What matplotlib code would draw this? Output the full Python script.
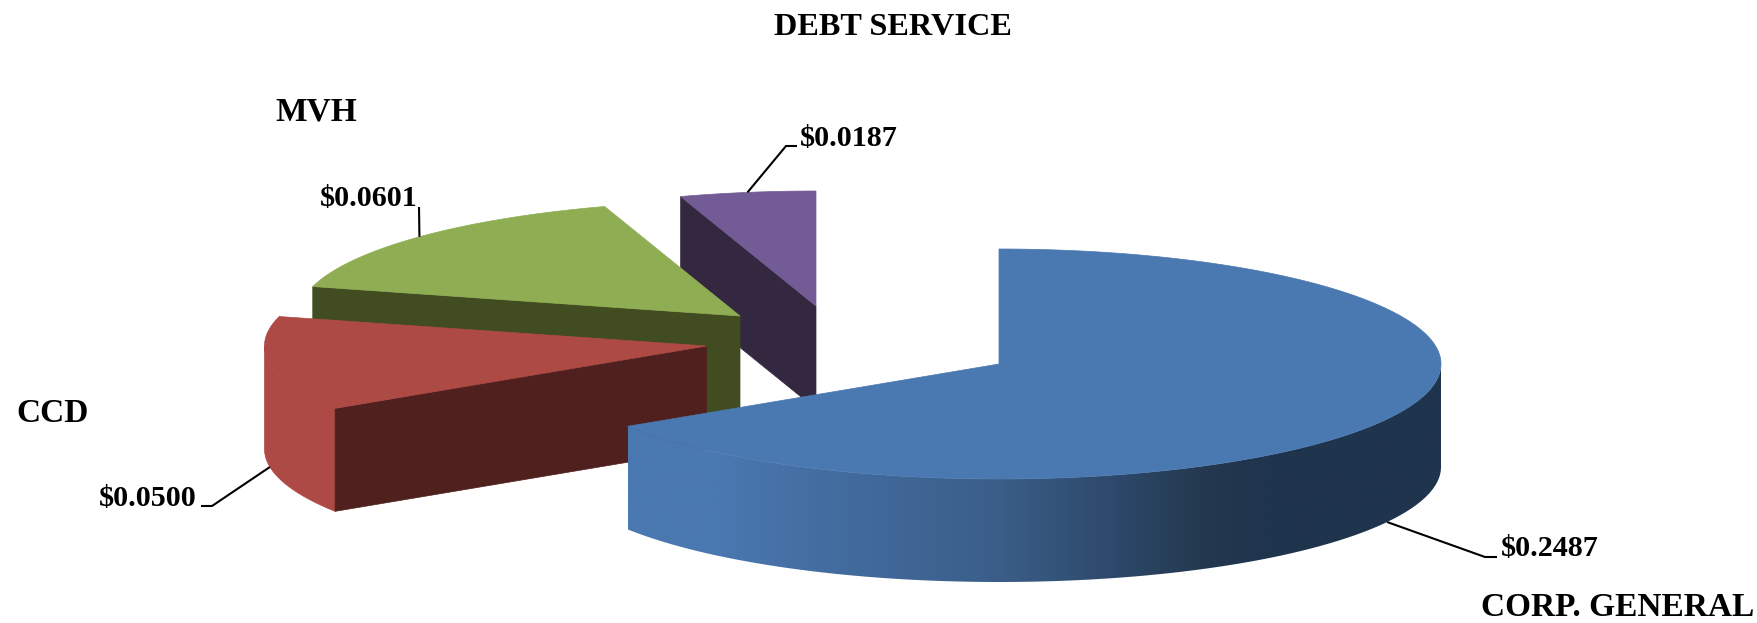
import numpy as np
import matplotlib
matplotlib.use("Agg")
import matplotlib.pyplot as plt
from matplotlib.colors import to_rgb
from matplotlib.patches import Polygon

# Debt service levy by fund, clockwise from twelve o'clock
categories = ["CORP. GENERAL", "CCD", "MVH", "OTHER"]
values = [0.2487, 0.0500, 0.0601, 0.0187]
category_labels = ["CORP. GENERAL", "CCD", "MVH", None]
chart_title = "DEBT SERVICE"

# Pie geometry in pixels: exploded apex of each slice, ellipse radii and extrusion depth
apexes = [(999, 364), (706.5, 346), (740, 316), (816, 306)]
RX, RY, DEPTH = 442, 115, 103

TOP = ["#4A78B0", "#AE4A45", "#8FAD52", "#735C95"]
CUT = [None, "#4F201E", "#414C20", "#332840"]

# Leader elbows and value label anchors
elbows = [[(1485, 557), (1497, 557)], [(212, 506), (201, 506)],
          [(419, 207), (419, 207)], [(786, 146), (797, 146)]]
value_pos = [(1501, 549), (99, 499), (320, 198), (800, 138)]
name_pos = [(1481, 608), (16, 414), (275, 112), None]

plt.rcParams["font.family"] = ["Liberation Serif", "DejaVu Serif"]
fig = plt.figure(figsize=(17.58, 6.23), dpi=100, facecolor="white")
ax = fig.add_axes([0, 0, 1, 1])
ax.set_xlim(0, 1758)
ax.set_ylim(623, 0)
ax.axis("off")

shares = np.array(values) / np.sum(values)
edges = np.concatenate([[0], np.cumsum(shares)]) * 2 * np.pi


def rim(apex, theta, drop=0.0):
    theta = np.asarray(theta)
    return np.column_stack([apex[0] + RX * np.sin(theta),
                            apex[1] - RY * np.cos(theta) + drop])


# Painted back to front so nearer slices hide the farther ones
for i in [3, 2, 1, 0]:
    apex = apexes[i]
    t0, t1 = edges[i], edges[i + 1]
    z = 10 + (3 - i) * 5

    # Outer wall: only the part facing the viewer is drawn
    lo, hi = max(t0, np.pi / 2), min(t1, 3 * np.pi / 2)
    if hi > lo:
        arc = np.linspace(lo, hi, 200)
        wall = np.vstack([rim(apex, arc), rim(apex, arc[::-1], DEPTH)])
        if i == 0:
            # Shaded side of the large slice, dark on the right
            xs = np.linspace(wall[:, 0].min(), wall[:, 0].max(), 800)
            stops_x = [628, 715, 868, 1001, 1135, 1205, 1268, 1441]
            stops_c = [to_rgb(c) for c in ["#4A78B0", "#4A78B0", "#41699A", "#3A5E88",
                                           "#2B4565", "#24394F", "#1F344D", "#1F344D"]]
            grad = np.column_stack([np.interp(xs, stops_x, [c[k] for c in stops_c])
                                    for k in range(3)])[None, :, :]
            im = ax.imshow(grad, extent=[xs[0], xs[-1], wall[:, 1].max(), wall[:, 1].min()],
                           aspect="auto", zorder=z, interpolation="bilinear")
            clip = Polygon(wall, closed=True, transform=ax.transData, fill=False, lw=0)
            ax.add_patch(clip)
            im.set_clip_path(clip)
        else:
            ax.add_patch(Polygon(wall, closed=True, fc=TOP[i], ec=TOP[i], lw=0.5, zorder=z))

    # Cut face at the slice's clockwise-start edge
    if CUT[i]:
        p = rim(apex, [t0])[0]
        face = [p, apex, (apex[0], apex[1] + DEPTH), (p[0], p[1] + DEPTH)]
        ax.add_patch(Polygon(face, closed=True, fc=CUT[i], ec=CUT[i], lw=0.5, zorder=z + 1))

    # Top face
    arc = np.linspace(t0, t1, 300)
    top = np.vstack([[apex], rim(apex, arc)])
    ax.add_patch(Polygon(top, closed=True, fc=TOP[i], ec=TOP[i], lw=0.5, zorder=z + 2))

    # Leader from the rim at the slice's mid angle to its value label
    mid = (t0 + t1) / 2
    start = rim(apex, [mid], DEPTH if np.cos(mid) < 0 else 0)[0]
    path = np.vstack([start, elbows[i]])
    ax.plot(path[:, 0], path[:, 1], color="black", lw=1.5, zorder=40,
            solid_capstyle="butt", solid_joinstyle="miter")

    ax.text(*value_pos[i], f"${values[i]:.4f}", fontsize=21.7, fontweight="bold",
            ha="left", va="center", color="black", zorder=50)
    if category_labels[i]:
        ax.text(*name_pos[i], category_labels[i], fontsize=24, fontweight="bold",
                ha="left", va="center", color="black", zorder=50)

ax.text(893, 27.5, chart_title, fontsize=23.2, fontweight="bold",
        ha="center", va="center", color="black", zorder=50)

ax.set_xlim(0, 1758)
ax.set_ylim(623, 0)
fig.savefig("out.png", dpi=100, facecolor="white")
